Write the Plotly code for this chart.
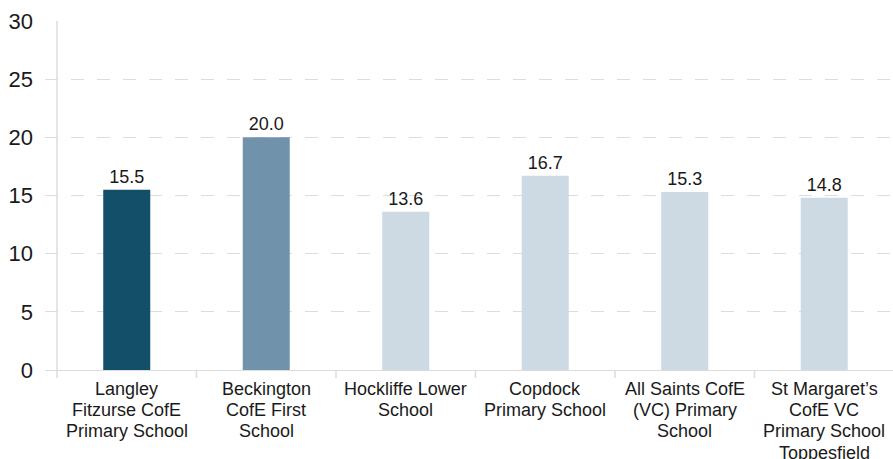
import plotly.graph_objects as go

categories = [
    "Langley<br>Fitzurse CofE<br>Primary School",
    "Beckington<br>CofE First<br>School",
    "Hockliffe Lower<br>School",
    "Copdock<br>Primary School",
    "All Saints CofE<br>(VC) Primary<br>School",
    "St Margaret\u2019s<br>CofE VC<br>Primary School<br>Toppesfield",
]
values = [15.5, 20.0, 13.6, 16.7, 15.3, 14.8]
bar_colors = ["#134F69", "#7093AB", "#CDDAE3", "#CDDAE3", "#CDDAE3", "#CDDAE3"]
y_ticks = [0, 5, 10, 15, 20, 25, 30]

FONT = "Liberation Sans, Arial, sans-serif"
GRID = "#DCDCDC"
TXT = "#1A1A1A"

fig = go.Figure(
    go.Bar(
        x=list(range(len(categories))),
        y=values,
        marker=dict(color=bar_colors, line=dict(width=0)),
        text=[f"{v:.1f}" for v in values],
        textposition="outside",
        textfont=dict(size=18, color=TXT, family=FONT),
        cliponaxis=False,
        hoverinfo="skip",
    )
)

fig.update_layout(
    width=893,
    height=459,
    margin=dict(l=45, r=0, t=21, b=89, autoexpand=False),
    paper_bgcolor="white",
    plot_bgcolor="white",
    bargap=0.663,
    showlegend=False,
    font=dict(family=FONT, color=TXT),
)

fig.update_xaxes(
    type="linear",
    automargin=False,
    range=[-0.586, 5.493],
    tickmode="array",
    tickvals=list(range(len(categories))),
    ticktext=["" for _ in categories],
    ticks="",
    showgrid=False,
    showline=False,
    zeroline=False,
)

fig.update_yaxes(
    automargin=False,
    range=[0, 30],
    tickmode="array",
    tickvals=y_ticks,
    ticktext=[str(t) for t in y_ticks],
    showgrid=True,
    gridcolor=GRID,
    gridwidth=1,
    griddash="13px,13px",
    zeroline=True,
    zerolinecolor=GRID,
    zerolinewidth=1,
    showline=False,
    ticks="",
    ticklabelstandoff=11,
    tickfont=dict(size=22, color=TXT, family=FONT),
)

# category labels, one annotation per line for tighter line spacing
annotations = []
for i, label in enumerate(categories):
    for j, line in enumerate(label.split("<br>")):
        annotations.append(dict(
            x=i, y=0, xref="x", yref="y", text=line, showarrow=False,
            xanchor="center", yanchor="top", yshift=-(7 + j * 21.2),
            font=dict(size=18, color=TXT, family=FONT),
        ))
fig.update_layout(annotations=annotations)

# y-axis line and category separators
shapes = [dict(type="line", xref="x", yref="paper", x0=-0.5, x1=-0.5, y0=1, y1=-8 / 349,
               line=dict(color=GRID, width=1.5))]
for b in range(1, len(categories)):
    shapes.append(dict(type="line", xref="x", yref="paper", x0=b - 0.5, x1=b - 0.5,
                       y0=0, y1=-8 / 349, line=dict(color=GRID, width=1.5)))
fig.update_layout(shapes=shapes)

fig.write_html(
    "out.html",
    config={"displayModeBar": False},
    post_script="document.body.style.margin='0';document.body.style.overflow='hidden';",
)
